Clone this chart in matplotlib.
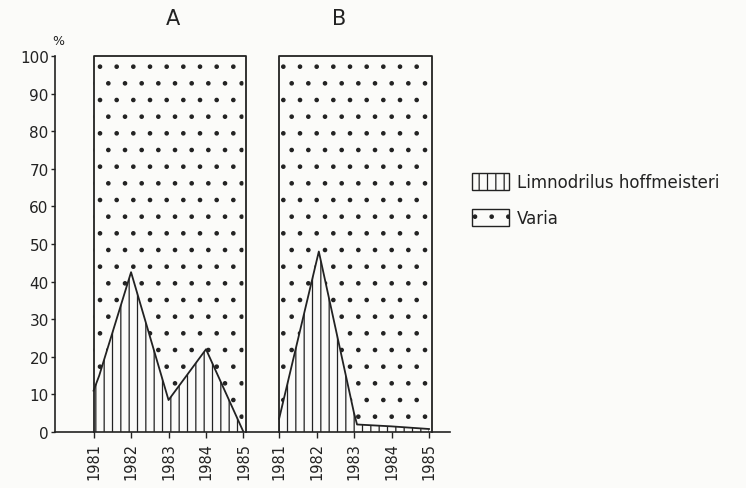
import matplotlib
matplotlib.use("Agg")
import matplotlib.pyplot as plt
from matplotlib.patches import Patch
import numpy as np

plt.rcParams['hatch.linewidth'] = 0.9
plt.rcParams['hatch.color'] = '#222222'

# Panel A (sampling dates as fractional years, % Limnodrilus hoffmeisteri)
a_years = [1981.0, 1981.15, 1982.0, 1983.0, 1984.0, 1985.0]
a_limno = [11, 15, 42.5, 8.5, 22, 0]
# Panel B
b_years = [1981.0, 1982.06, 1983.0, 1983.08, 1984.0, 1985.0]
b_limno = [3.5, 48, 5, 2, 1.5, 0.8]

tick_years = [1981, 1982, 1983, 1984, 1985]
y_ticks = [0, 10, 20, 30, 40, 50, 60, 70, 80, 90, 100]
panel_labels = ["A", "B"]
legend_labels = ["Limnodrilus hoffmeisteri", "Varia"]

B_OFFSET = 4.95
ink = '#222222'

fig = plt.figure(figsize=(7.46, 4.89), dpi=100)
fig.patch.set_facecolor('#fbfbf9')
ax = fig.add_axes([0.0737, 0.1145, 0.529, 0.769])
ax.set_facecolor('none')

panels = [(a_years, a_limno, 0.0, 2.12), (b_years, b_limno, B_OFFSET, 1.59)]
for (yrs, vals, off, tx), lab in zip(panels, panel_labels):
    x = np.array(yrs) - 1981 + off
    v = np.array(vals)
    ax.fill_between(x, 0, v, facecolor='none', edgecolor=ink, hatch='||', linewidth=0)
    ax.fill_between(x, v, 100, facecolor='none', edgecolor=ink, hatch='.', linewidth=0)
    ax.plot(x, v, color=ink, lw=1.3)
    x0, x1 = x[0], x[-1] + 0.08
    ax.plot([x0, x0, x1, x1], [0, 100, 100, 0], color=ink, lw=1.3, clip_on=False)
    ax.text(off + tx, 110, lab, ha='center', va='center', fontsize=15,
            color=ink, clip_on=False)

ax.set_xlim(-1.03, 9.5)
ax.set_ylim(0, 100)
xt = [t - 1981 for t in tick_years] + [t - 1981 + B_OFFSET for t in tick_years]
ax.set_xticks(xt)
ax.set_xticklabels([str(t) for t in tick_years] * 2, rotation=90, fontsize=10.5, color=ink)
ax.set_yticks(y_ticks)
ax.set_yticklabels([str(t) for t in y_ticks], fontsize=11, color=ink)
ax.tick_params(axis='both', direction='out', length=4, width=1, color=ink, pad=3)
ax.tick_params(axis='y', length=3, pad=1.5)
for s in ['top', 'right']:
    ax.spines[s].set_visible(False)
for s in ['left', 'bottom']:
    ax.spines[s].set_color(ink)
    ax.spines[s].set_linewidth(1.2)
ax.text(-0.95, 104, "%", ha='center', va='center', fontsize=9, color=ink, clip_on=False)

handles = [Patch(facecolor='none', edgecolor=ink, hatch='||', linewidth=1.0),
           Patch(facecolor='none', edgecolor=ink, hatch='.', linewidth=1.0)]
fig.legend(handles, legend_labels, loc='center left', bbox_to_anchor=(0.613, 0.589),
           frameon=False, fontsize=12, handlelength=2.2, handleheight=1.2,
           labelspacing=1.1, handletextpad=0.5, labelcolor=ink)

fig.savefig("out.png", dpi=100, facecolor=fig.get_facecolor())
